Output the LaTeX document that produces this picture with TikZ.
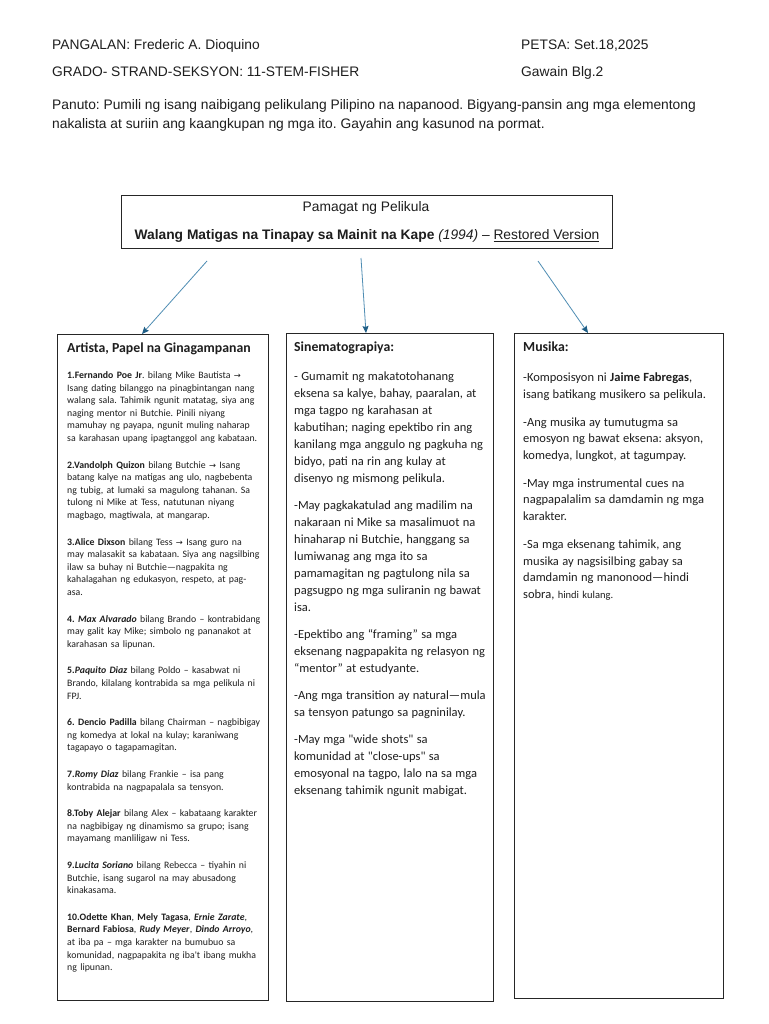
\documentclass[tikz,border=0pt]{standalone}
\usepackage{fontspec}
\setmainfont{Liberation Sans}
\newfontfamily\calfont{Carlito}
\newfontfamily\arrfont[Scale=0.85]{DejaVu Sans}
\usetikzlibrary{arrows.meta}
\definecolor{txt}{HTML}{1E1E1E}
\definecolor{arrline}{HTML}{4F8DB3}
\definecolor{arrtip}{HTML}{1F5E86}
\newcommand{\rarw}{{\arrfont →}}
\frenchspacing
\tikzset{
  hdr/.style={anchor=base west, inner sep=0pt, text=txt, font=\fontsize{13.8}{19}\selectfont},
  colbox/.style={draw=black!85, line width=0.8pt, anchor=north west, inner sep=0pt},
  colhead/.style={anchor=base west, inner sep=0pt, text=txt, font=\calfont\bfseries\fontsize{13.8}{16}\selectfont},
  coltext/.style={anchor=base west, inner sep=0pt, text=txt, text width=#1},
  link/.style={draw=arrline, line width=0.8pt, -{Stealth[length=7pt,width=6pt,inset=1pt,color=arrtip]}},
}
\begin{document}
\begin{tikzpicture}[x=1pt,y=-1pt]
\useasboundingbox[fill=white] (0,0) rectangle (768,1024);

% header
\node[hdr] (name) at (52,50) {PANGALAN: Frederic A. Dioquino};
\node[hdr] (date) at (521,50) {PETSA: Set.18,2025};
\node[hdr] (grade) at (52,77) {GRADO- STRAND-SEKSYON: 11-STEM-FISHER};
\node[hdr] (task) at (521,77) {Gawain Blg.2};
\node[hdr] (inst1) at (52,110) {Panuto: Pumili ng isang naibigang pelikulang Pilipino na napanood. Bigyang-pansin ang mga elementong};
\node[hdr] (inst2) at (52,129) {nakalista at suriin ang kaangkupan ng mga ito. Gayahin ang kasunod na pormat.};

% title box
\node[colbox, minimum width=491pt, minimum height=53pt] (title) at (121,195) {};
\node[anchor=base, inner sep=0pt, text=txt, font=\fontsize{13.8}{16}\selectfont] (ttl1) at (366,212) {Pamagat ng Pelikula};
\node[anchor=base, inner sep=0pt, text=txt, font=\fontsize{13.8}{16}\selectfont] (ttl2) at (367,240)
  {\textbf{Walang Matigas na Tinapay sa Mainit na Kape} \textit{(1994)} – \underline{Restored Version}};

% column boxes
\node[colbox, minimum width=211pt, minimum height=666pt] (castbox) at (57,334) {};
\node[colbox, minimum width=207pt, minimum height=668pt] (cinebox) at (286,333) {};
\node[colbox, minimum width=209pt, minimum height=665pt] (musbox) at (514,333) {};

% arrows
\coordinate (s1) at (207,261);
\coordinate (s2) at (361,258);
\coordinate (s3) at (538,261);
\draw[link] (s1) -- ([xshift=85pt]castbox.north west);
\draw[link] (s2) -- ([xshift=80pt]cinebox.north west);
\draw[link] (s3) -- ([xshift=74pt]musbox.north west);

% column 1
\node[colhead] (casthead) at (67,352.5) {Artista, Papel na Ginagampanan};
\node[coltext=235pt] (cast) at (67,378.4) {\calfont\fontsize{9.8}{12.6}\selectfont\raggedright\setlength{\parskip}{14pt}%
\textbf{1.Fernando Poe Jr}. bilang Mike Bautista \rarw\newline
Isang dating bilanggo na pinagbintangan nang\newline
walang sala. Tahimik ngunit matatag, siya ang\newline
naging mentor ni Butchie. Pinili niyang\newline
mamuhay ng payapa, ngunit muling naharap\newline
sa karahasan upang ipagtanggol ang kabataan.\par
\textbf{2.Vandolph Quizon} bilang Butchie \rarw{} Isang\newline
batang kalye na matigas ang ulo, nagbebenta\newline
ng tubig, at lumaki sa magulong tahanan. Sa\newline
tulong ni Mike at Tess, natutunan niyang\newline
magbago, magtiwala, at mangarap.\par
\textbf{3.Alice Dixson} bilang Tess \rarw{} Isang guro na\newline
may malasakit sa kabataan. Siya ang nagsilbing\newline
ilaw sa buhay ni Butchie—nagpakita ng\newline
kahalagahan ng edukasyon, respeto, at pag-\newline
asa.\par
\textbf{4. \textit{Max Alvarado}} bilang Brando – kontrabidang\newline
may galit kay Mike; simbolo ng pananakot at\newline
karahasan sa lipunan.\par
\textbf{5.\textit{Paquito Diaz}} bilang Poldo – kasabwat ni\newline
Brando, kilalang kontrabida sa mga pelikula ni\newline
FPJ.\par
\textbf{6. Dencio Padilla} bilang Chairman – nagbibigay\newline
ng komedya at lokal na kulay; karaniwang\newline
tagapayo o tagapamagitan.\par
\textbf{7.\textit{Romy Diaz}} bilang Frankie – isa pang\newline
kontrabida na nagpapalala sa tensyon.\par
\textbf{8.Toby Alejar} bilang Alex – kabataang karakter\newline
na nagbibigay ng dinamismo sa grupo; isang\newline
mayamang manliligaw ni Tess.\par
\textbf{9.\textit{Lucita Soriano}} bilang Rebecca – tiyahin ni\newline
Butchie, isang sugarol na may abusadong\newline
kinakasama.\par
\textbf{10.Odette Khan}, \textbf{Mely Tagasa}, \textbf{\textit{Ernie Zarate}},\newline
\textbf{Bernard Fabiosa}, \textbf{\textit{Rudy Meyer}}, \textbf{\textit{Dindo Arroyo}},\newline
at iba pa – mga karakter na bumubuo sa\newline
komunidad, nagpapakita ng iba't ibang mukha\newline
ng lipunan.\par};

% column 2
\node[colhead] (cinehead) at (294,351.5) {Sinematograpiya:};
\node[coltext=240pt] (cine) at (294,380.5) {\calfont\fontsize{12.5}{17}\selectfont\raggedright\setlength{\parskip}{10pt}%
- Gumamit ng makatotohanang\newline
eksena sa kalye, bahay, paaralan, at\newline
mga tagpo ng karahasan at\newline
kabutihan; naging epektibo rin ang\newline
kanilang mga anggulo ng pagkuha ng\newline
bidyo, pati na rin ang kulay at\newline
disenyo ng mismong pelikula.\par
-May pagkakatulad ang madilim na\newline
nakaraan ni Mike sa masalimuot na\newline
hinaharap ni Butchie, hanggang sa\newline
lumiwanag ang mga ito sa\newline
pamamagitan ng pagtulong nila sa\newline
pagsugpo ng mga suliranin ng bawat\newline
isa.\par
-Epektibo ang “framing” sa mga\newline
eksenang nagpapakita ng relasyon ng\newline
“mentor” at estudyante.\par
-Ang mga transition ay natural—mula\newline
sa tensyon patungo sa pagninilay.\par
-May mga "wide shots" sa\newline
komunidad at "close-ups" sa\newline
emosyonal na tagpo, lalo na sa mga\newline
eksenang tahimik ngunit mabigat.\par};

% column 3
\node[colhead] (mushead) at (523,351.5) {Musika:};
\node[coltext=240pt] (mus) at (523,381.5) {\calfont\fontsize{12.5}{16.6}\selectfont\raggedright\setlength{\parskip}{11.4pt}%
-Komposisyon ni \textbf{Jaime Fabregas},\newline
isang batikang musikero sa pelikula.\par
-Ang musika ay tumutugma sa\newline
emosyon ng bawat eksena: aksyon,\newline
komedya, lungkot, at tagumpay.\par
-May mga instrumental cues na\newline
nagpapalalim sa damdamin ng mga\newline
karakter.\par
-Sa mga eksenang tahimik, ang\newline
musika ay nagsisilbing gabay sa\newline
damdamin ng manonood—hindi\newline
sobra, {\fontsize{10.5}{16.6}\selectfont hindi kulang.}\par};
\end{tikzpicture}
\end{document}
